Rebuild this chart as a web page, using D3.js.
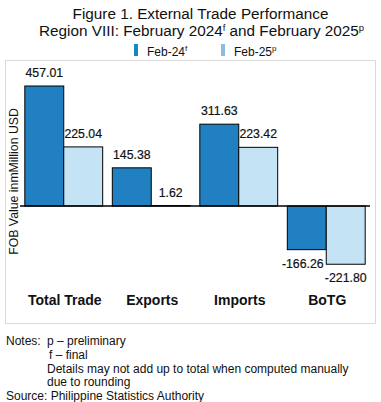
<!DOCTYPE html>
<html><head><meta charset="utf-8">
<script src="https://cdn.jsdelivr.net/npm/d3@7"></script>
<style>body{margin:0;background:#fff}svg{display:block;font-family:"Liberation Sans",Arial,sans-serif}</style>
</head><body>
<svg id="c" width="381" height="402"></svg>
<script>
const categories = ["Total Trade", "Exports", "Imports", "BoTG"];
const seriesNames = ["Feb-24", "Feb-25"];
const seriesSup = ["f", "p"];
const feb24 = [457.01, 145.38, 311.63, -166.26];
const feb25 = [225.04, 1.62, 223.42, -221.80];
const labels24 = ["457.01", "145.38", "311.63", "-166.26"];
const labels25 = ["225.04", "1.62", "223.42", "-221.80"];
const barColors = ["#2080c1", "#c4e3f5"];
const legendColors = ["#1588bf", "#8bbde2"];

const svg = d3.select("#c");
const data = categories.map((c, i) => ({cat: c, vals: [
  {k: 0, v: feb24[i], l: labels24[i]}, {k: 1, v: feb25[i], l: labels25[i]}]}));

// frame
svg.append("rect").attr("x", 5.5).attr("y", 60.5).attr("width", 370).attr("height", 263)
  .attr("fill", "none").attr("stroke", "#d9d9d9").attr("stroke-width", 1);

// title
const t = svg.append("text").attr("text-anchor", "middle").attr("font-size", 15.3).attr("fill", "#111");
t.append("tspan").attr("x", 200.5).attr("y", 19).text("Figure 1. External Trade Performance");
const t2 = svg.append("text").attr("x", 39).attr("y", 36).attr("font-size", 15.3).attr("fill", "#111");
t2.append("tspan").text("Region VIII: February 2024");
t2.append("tspan").attr("font-size", 9.5).attr("dy", -5.5).text("f");
t2.append("tspan").attr("dy", 5.5).text(" and February 2025");
t2.append("tspan").attr("font-size", 9.5).attr("dy", -5.5).text("p");

// legend
const legX = [134, 221];
seriesNames.forEach((n, i) => {
  svg.append("rect").attr("x", legX[i]).attr("y", 44).attr("width", 4).attr("height", 12).attr("fill", legendColors[i]);
  const lt = svg.append("text").attr("x", legX[i] + 13).attr("y", 55.5).attr("font-size", 12).attr("fill", "#111");
  lt.append("tspan").text(n);
  lt.append("tspan").attr("font-size", 8).attr("dy", -5).text(seriesSup[i]);
});

// scales
const x0 = d3.scaleBand().domain(categories).range([20, 370]).paddingInner(0.11).paddingOuter(0.055);
const x1 = d3.scaleBand().domain([0, 1]).range([0, x0.bandwidth()]);
const y = d3.scaleLinear().domain([0, 457.01]).range([206, 86]);

const g = svg.selectAll("g.cat").data(data).join("g").attr("class", "cat")
  .attr("transform", d => `translate(${x0(d.cat)},0)`);
g.selectAll("rect").data(d => d.vals).join("rect")
  .attr("x", d => x1(d.k)).attr("width", x1.bandwidth())
  .attr("y", d => y(Math.max(0, d.v))).attr("height", d => Math.abs(y(d.v) - y(0)))
  .attr("fill", d => barColors[d.k]).attr("stroke", "#000").attr("stroke-width", 1);
g.selectAll("text.val").data(d => d.vals).join("text").attr("class", "val")
  .attr("x", d => x1(d.k) + x1.bandwidth() / 2 - (d.v < 0 && d.k === 0 ? 4 : 0))
  .attr("y", d => d.v >= 0 ? y(d.v) - 9 : y(d.v) + 18)
  .attr("text-anchor", "middle").attr("font-size", 12.3).attr("fill", "#111")
  .attr("stroke", "#111").attr("stroke-width", 0.2).text(d => d.l);

// zero axis line
svg.append("line").attr("x1", 20).attr("x2", 370).attr("y1", y(0)).attr("y2", y(0))
  .attr("stroke", "#000").attr("stroke-width", 1.3);

// category labels
svg.selectAll("text.cat").data(categories).join("text").attr("class", "cat")
  .attr("x", d => x0(d) + x0.bandwidth() / 2 + 1).attr("y", 305)
  .attr("text-anchor", "middle").attr("font-size", 14).attr("font-weight", "bold").attr("fill", "#111").text(d => d);

// y label
svg.append("text").attr("transform", "translate(18,181.5) rotate(-90)").attr("text-anchor", "middle")
  .attr("font-size", 12.3).attr("fill", "#111").text("FOB Value inmMillion USD");

// notes
const notes = [[6, "Notes:"], [47, "p \u2013 preliminary"], [49, "f \u2013 final"],
  [47, "Details may not add up to total when computed manually"], [47, "due to rounding"], [6, "Source: Philippine Statistics Authority"]];
const noteY = [345, 345, 358.75, 372.5, 386.25, 400];
notes.forEach((n, i) => svg.append("text").attr("x", n[0]).attr("y", noteY[i]).attr("font-size", 12).attr("fill", "#111").text(n[1]));
</script>
</body></html>
